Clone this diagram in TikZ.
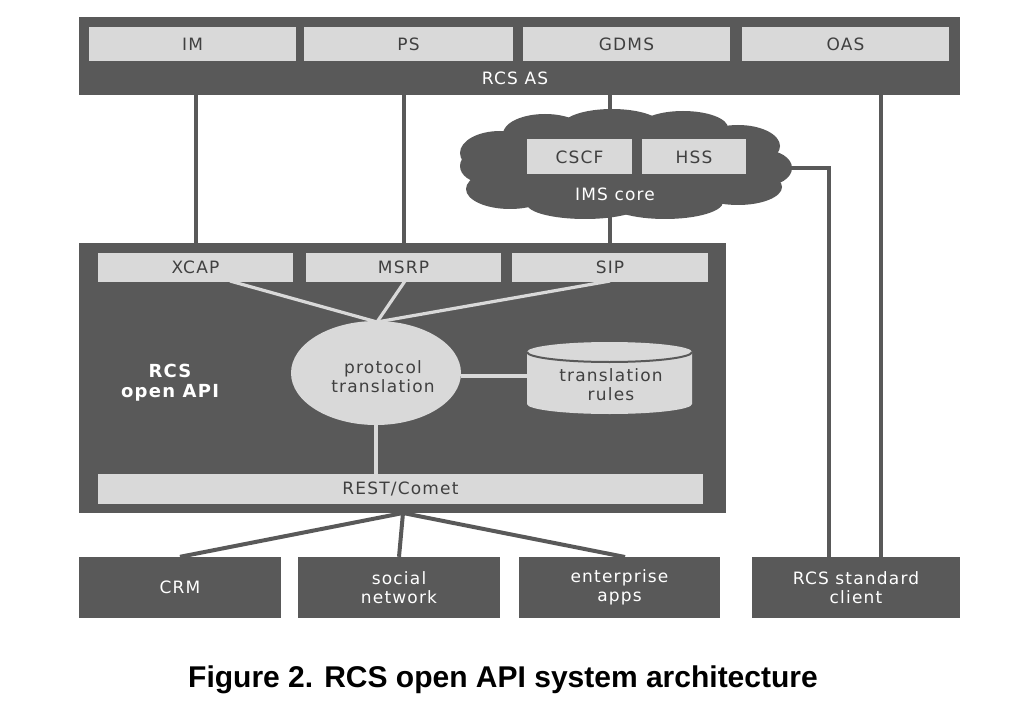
\documentclass[tikz,border=0pt]{standalone}
\usepackage{fontspec}
\setmainfont[LetterSpace=7]{DejaVu Sans}
\newfontfamily\capfont{Liberation Sans}
\usetikzlibrary{shapes.geometric}
\definecolor{dk}{HTML}{595959}
\definecolor{lt}{HTML}{D9D9D9}
\definecolor{tx}{HTML}{404040}
\begin{document}
\begin{tikzpicture}[x=1pt,y=-1pt,
  lbox/.style={fill=lt, draw=none, inner sep=0pt, text=tx, font=\fontsize{17}{19}\selectfont, align=center},
  dbox/.style={fill=dk, draw=none, inner sep=0pt, text=white, font=\fontsize{17}{19}\selectfont, align=center},
  dline/.style={draw=dk, line width=4pt},
  lline/.style={draw=lt, line width=3.2pt},
  lbl/.style={inner sep=0pt, text=white, font=\fontsize{17}{19}\selectfont, align=center}]
\useasboundingbox (0,0) rectangle (1016,711);

% RCS AS
\node[dbox, minimum width=881pt, minimum height=78pt] (as) at (519.5,56) {};
\node[lbox, minimum width=207pt, minimum height=34pt] (im) at (192.5,44) {IM};
\node[lbox, minimum width=209pt, minimum height=34pt] (ps) at (408.5,44) {PS};
\node[lbox, minimum width=207pt, minimum height=34pt] (gdms) at (626.5,44) {GDMS};
\node[lbox, minimum width=207pt, minimum height=34pt] (oas) at (845.5,44) {OAS};
\node[lbl] (aslbl) at (515,78) {RCS AS};

% RCS open API
\node[dbox, minimum width=647pt, minimum height=270pt] (api) at (402.5,378) {};
\node[lbox, minimum width=195pt, minimum height=29pt] (xcap) at (195.5,267) {XCAP};
\node[lbox, minimum width=195pt, minimum height=29pt] (msrp) at (403.5,267) {MSRP};
\node[lbox, minimum width=196pt, minimum height=29pt] (sip) at (610,267) {SIP};
\node[lbox, minimum width=605pt, minimum height=30pt] (rest) at (400.5,489) {REST/Comet};
\node[lbl, font=\fontsize{18}{20}\selectfont\bfseries] (apilbl) at (170,383) {RCS\\open API};

% cylinder
\fill[lt] (527,352) -- (527,404) arc[start angle=180, end angle=360, x radius=82.5pt, y radius=10pt]
  -- (692,352) arc[start angle=0, end angle=180, x radius=82.5pt, y radius=10pt] -- cycle;
\draw[dk, line width=2pt] (527,352) arc[start angle=180, end angle=360, x radius=82.5pt, y radius=10pt];
\node[lbl, text=tx] (rules) at (611,385) {translation\\rules};

% ellipse
\node[ellipse, fill=lt, inner sep=0pt, minimum width=170pt, minimum height=104pt] (pt) at (376,373) {};
\node[lbl, text=tx] (ptlbl) at (383,377) {protocol\\translation};

% inner connectors
\coordinate (conv) at (377,322);
\coordinate (xs) at (230,281);
\coordinate (ms) at (405,281);
\coordinate (ss) at (610,281);
\draw[lline] (xs) -- (conv);
\draw[lline] (ms) -- (conv);
\draw[lline] (ss) -- (conv);
\coordinate (rl) at (527,376);
\draw[lline] (pt.east |- rl) -- (rl);
\draw[lline] (pt.south) -- (pt.south |- rest.north);

% IMS cloud
\begin{scope}[dk]
\fill (620,168) ellipse[x radius=150pt, y radius=45pt];
\fill (500,153) ellipse[x radius=40pt, y radius=22pt];
\fill (545,134) ellipse[x radius=42pt, y radius=20pt];
\fill (612,126) ellipse[x radius=50pt, y radius=17pt];
\fill (683,128) ellipse[x radius=45pt, y radius=17pt];
\fill (738,146) ellipse[x radius=42pt, y radius=21pt];
\fill (764,168) ellipse[x radius=28pt, y radius=18pt];
\fill (738,187) ellipse[x radius=44pt, y radius=18pt];
\fill (665,202) ellipse[x radius=58pt, y radius=17pt];
\fill (585,204) ellipse[x radius=58pt, y radius=15pt];
\fill (510,189) ellipse[x radius=44pt, y radius=20pt];
\fill (484,166) ellipse[x radius=24pt, y radius=17pt];
\end{scope}
\node[lbox, minimum width=105pt, minimum height=35pt] (cscf) at (579.5,157) {CSCF};
\node[lbox, minimum width=104pt, minimum height=35pt] (hss) at (694,157) {HSS};
\node[lbl] (ims) at (615,194) {IMS core};
\coordinate (ctop) at (610,118);
\coordinate (cbot) at (610,215);
\coordinate (cright) at (788,168);
\coordinate (ck) at (829,168);

% bottom boxes
\node[dbox, minimum width=202pt, minimum height=61pt] (crm) at (180,587.5) {CRM};
\node[dbox, minimum width=202pt, minimum height=61pt] (soc) at (399,587.5) {social\\network};
\node[dbox, minimum width=201pt, minimum height=61pt] (ent) at (619.5,587.5) {enterprise\\apps};
\node[dbox, minimum width=208pt, minimum height=61pt] (client) at (856,587.5) {RCS standard\\client};

% outer connectors
\draw[dline] (xcap |- as.south) -- (xcap |- api.north);
\draw[dline] (msrp |- as.south) -- (msrp |- api.north);
\draw[dline] (sip |- as.south) -- (ctop);
\draw[dline] (cbot) -- (sip |- api.north);
\coordinate (asr) at (881,95);
\draw[dline] (asr) -- (asr |- client.north);
\draw[dline] (cright) -- (ck) -- (ck |- client.north);
\coordinate (apib) at (403,513);
\draw[dline] (apib) -- (crm.north);
\draw[dline] (apib) -- (soc.north);
\draw[dline] (apib) -- (625,557);

% caption
\node[inner sep=0pt, font=\capfont\bfseries\fontsize{30}{34}\selectfont] (cap) at (503,680) {Figure 2. RCS open API system architecture};
\end{tikzpicture}
\end{document}
